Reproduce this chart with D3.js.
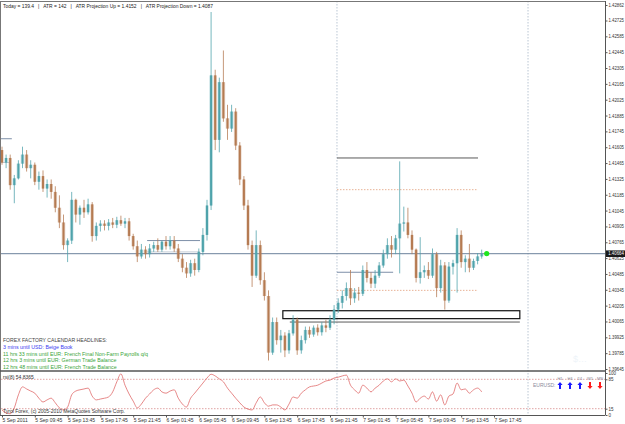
<!DOCTYPE html>
<html><head><meta charset="utf-8">
<script src="https://cdn.jsdelivr.net/npm/d3@7"></script>
<style>body{margin:0;background:#fff}svg{display:block}text{font-family:"Liberation Sans",Arial,sans-serif}</style>
</head><body><svg id="c" width="625" height="424"></svg>
<script>
// ---- DATA ----
// EURUSD 30-min candles: [open, high, low, close]
const candles = [
[1.4158,1.4161,1.4145,1.4147],[1.4147,1.4154,1.4142,1.4151],[1.4151,1.4154,1.4123,1.4127],[1.4127,1.4136,1.4111,1.4133],
[1.4133,1.4149,1.4132,1.4146],[1.4146,1.4161,1.4142,1.4154],[1.4154,1.4158,1.4139,1.4142],[1.4142,1.4149,1.4133,1.4145],
[1.4145,1.4147,1.4127,1.4130],[1.4130,1.4139,1.4123,1.4135],[1.4135,1.4140,1.4121,1.4124],[1.4124,1.4132,1.4116,1.4128],
[1.4128,1.4132,1.4115,1.4121],[1.4121,1.4126,1.4103,1.4107],[1.4107,1.4118,1.4089,1.4094],[1.4094,1.4101,1.4070,1.4074],
[1.4074,1.4080,1.4059,1.4078],[1.4078,1.4121,1.4075,1.4114],[1.4114,1.4115,1.4094,1.4101],[1.4101,1.4109,1.4092,1.4107],
[1.4107,1.4114,1.4098,1.4103],[1.4103,1.4115,1.4101,1.4110],[1.4110,1.4112,1.4077,1.4082],[1.4082,1.4094,1.4078,1.4091],
[1.4091,1.4096,1.4086,1.4093],[1.4093,1.4096,1.4087,1.4091],[1.4091,1.4097,1.4087,1.4094],[1.4094,1.4098,1.4089,1.4092],
[1.4092,1.4099,1.4089,1.4096],[1.4096,1.4100,1.4091,1.4093],[1.4093,1.4098,1.4089,1.4095],[1.4095,1.4098,1.4078,1.4082],
[1.4082,1.4084,1.4070,1.4073],[1.4073,1.4078,1.4059,1.4064],[1.4064,1.4075,1.4062,1.4070],[1.4070,1.4073,1.4062,1.4066],
[1.4066,1.4075,1.4063,1.4071],[1.4071,1.4077,1.4068,1.4074],[1.4074,1.4080,1.4068,1.4070],[1.4070,1.4078,1.4068,1.4077],
[1.4077,1.4082,1.4070,1.4073],[1.4073,1.4082,1.4070,1.4078],[1.4078,1.4082,1.4068,1.4071],[1.4071,1.4075,1.4059,1.4062],
[1.4062,1.4066,1.4050,1.4054],[1.4054,1.4059,1.4045,1.4049],[1.4049,1.4061,1.4046,1.4058],[1.4058,1.4062,1.4047,1.4052],
[1.4052,1.4071,1.4050,1.4068],[1.4068,1.4089,1.4065,1.4083],[1.4083,1.4114,1.4078,1.4109],[1.4109,1.4280,1.4105,1.4224],
[1.4224,1.4229,1.4158,1.4167],[1.4167,1.4222,1.4156,1.4218],[1.4218,1.4246,1.4183,1.4186],[1.4186,1.4198,1.4167,1.4177],
[1.4177,1.4198,1.4174,1.4192],[1.4192,1.4195,1.4158,1.4162],[1.4162,1.4165,1.4127,1.4132],[1.4132,1.4135,1.4105,1.4109],
[1.4109,1.4114,1.4070,1.4074],[1.4074,1.4078,1.4037,1.4047],[1.4047,1.4087,1.4045,1.4074],[1.4074,1.4078,1.4039,1.4043],
[1.4043,1.4050,1.4025,1.4029],[1.4029,1.4034,1.3972,1.3979],[1.3979,1.4010,1.3977,1.4006],[1.4006,1.4010,1.3986,1.3990],
[1.3990,1.3999,1.3979,1.3994],[1.3994,1.3997,1.3975,1.3981],[1.3981,1.3999,1.3978,1.3996],[1.3996,1.4012,1.3994,1.4008],
[1.4008,1.4010,1.3977,1.3981],[1.3981,1.3994,1.3978,1.3990],[1.3990,1.4002,1.3987,1.3999],[1.3999,1.4002,1.3992,1.3995],
[1.3995,1.4003,1.3993,1.4001],[1.4001,1.4004,1.3994,1.3997],[1.3997,1.4006,1.3994,1.4003],[1.4003,1.4008,1.3997,1.4001],
[1.4001,1.4012,1.3999,1.4008],[1.4008,1.4021,1.4004,1.4017],[1.4017,1.4027,1.4014,1.4023],[1.4023,1.4034,1.4018,1.4029],
[1.4029,1.4041,1.4025,1.4036],[1.4036,1.4052,1.4021,1.4027],[1.4027,1.4036,1.4023,1.4032],[1.4032,1.4037,1.4025,1.4031],
[1.4031,1.4056,1.4029,1.4052],[1.4052,1.4059,1.4041,1.4045],[1.4045,1.4050,1.4036,1.4040],[1.4040,1.4052,1.4036,1.4047],
[1.4047,1.4059,1.4045,1.4056],[1.4056,1.4070,1.4054,1.4066],[1.4066,1.4080,1.4062,1.4074],[1.4074,1.4082,1.4063,1.4070],
[1.4070,1.4083,1.4066,1.4080],[1.4080,1.4148,1.4049,1.4093],[1.4093,1.4108,1.4086,1.4094],[1.4094,1.4107,1.4080,1.4083],
[1.4083,1.4087,1.4066,1.4070],[1.4070,1.4071,1.4041,1.4045],[1.4045,1.4081,1.4040,1.4050],[1.4050,1.4056,1.4045,1.4052],
[1.4052,1.4059,1.4044,1.4047],[1.4047,1.4071,1.4045,1.4066],[1.4066,1.4068,1.4028,1.4036],[1.4036,1.4061,1.4032,1.4056],
[1.4056,1.4059,1.4017,1.4025],[1.4025,1.4059,1.4023,1.4055],[1.4055,1.4061,1.4048,1.4058],[1.4058,1.4089,1.4032,1.4083],
[1.4083,1.4087,1.4054,1.4059],[1.4059,1.4065,1.4050,1.4062],[1.4062,1.4075,1.4050,1.4054],[1.4054,1.4062,1.4052,1.4060],
[1.4060,1.4067,1.4057,1.4064],[1.4064,1.4070,1.4062,1.4066]
];
// RSI(8) per candle
const rsiValues = [12,5,3,17,48,67,62,57,52,40,31,36,40,29,17,12,19,48,57,60,62,64,45,36,38,40,43,55,79,98,
71,50,33,17,26,40,50,60,64,55,52,57,60,40,26,19,40,52,64,76,88,97,93,86,79,64,52,40,29,19,
14,12,29,43,29,21,24,24,19,12,26,43,40,52,60,67,69,71,76,81,83,88,90,93,95,71,60,52,71,64,
55,64,71,81,86,79,86,81,83,69,52,31,40,45,38,55,33,48,24,45,50,76,60,62,52,60,64,55];
const rsiLevels = [85, 15];
const rsiScaleLabels = [100, 85, 15, 0];
const priceTicks = [1.42862,1.42725,1.42585,1.42445,1.42305,1.42165,1.42025,1.41885,1.41745,1.41605,1.41465,
  1.41325,1.41185,1.41045,1.40905,1.40765,1.40625,1.40485,1.40345,1.40205,1.40065,1.39925,1.39785,1.39645];
const lastPrice = 1.40664;
const timeLabels = ["5 Sep 2011","5 Sep 09:45","5 Sep 13:45","5 Sep 17:45","5 Sep 21:45","6 Sep 01:45","6 Sep 05:45",
  "6 Sep 09:45","6 Sep 13:45","6 Sep 17:45","6 Sep 21:45","7 Sep 01:45","7 Sep 05:45","7 Sep 09:45","7 Sep 13:45","7 Sep 17:45"];
const barsPerLabel = 8;
// horizontal objects: [price, fromBar, toBar, kind]
const levelLines = [
  [1.4168, -0.5, 2.4, "blue"], [1.4147, -0.5, 2, "pale"],
  [1.4078, 35.4, 48.3, "blue"], [1.4068, 35.4, 48.3, "pale"],
  [1.4151, 81.7, 116.1, "dark"], [1.4123, 81.7, 116.1, "dot"],
  [1.4050, 81.7, 95.4, "blue"], [1.4034, 81.7, 116.1, "dot"],
  [1.4006, 70.2, 126.3, "dark"]
];
const zoneBox = {top: 1.4016, bottom: 1.4009, from: 68.5, to: 126.3};
const separators = [81.7, 128.3];
const headerText = "Today = 139.4   |   ATR = 142   |   ATR Projection Up = 1.4152   |   ATR Projection Down = 1.4087";
const newsTitle = "FOREX FACTORY CALENDAR HEADLINES:";
const newsLines = [
  ["3 mins until USD: Beige Book", "blue"],
  ["11 hrs 33 mins until EUR: French Final Non-Farm Payrolls q/q", "green"],
  ["12 hrs 3 mins until EUR: German Trade Balance", "green"],
  ["12 hrs 48 mins until EUR: French Trade Balance", "green"]
];
const trendFrames = ["H1","H4","D1","W1","MN"];
const trendDirs = ["up","up","up","down","down"];
const rsiTitle = "rsi(8) 54.8365";
const copyright = "Tyrol Forex, (c) 2005-2010 MetaQuotes Software Corp.";

// ---- DRAW ----
const svg = d3.select("#c");
const W = 625, plotR = 605;
const mainTop = 1, mainBot = 371, rsiBot = 415;
const x = d3.scaleLinear().domain([0, candles.length - 1]).range([2, 2 + 4.1 * (candles.length - 1)]);
const y = d3.scaleLinear().domain([1.39645, 1.42862]).range([369, 5]);
const ry = d3.scaleLinear().domain([0, 100]).range([415, 373]);
const UP = "#4fa3ab", DN = "#b57b52";
const FONT = "Liberation Sans, Arial, sans-serif";

svg.append("rect").attr("width", W).attr("height", 424).attr("fill", "#fff");

separators.forEach(s => {
  svg.append("line").attr("x1", x(s)).attr("x2", x(s)).attr("y1", mainTop).attr("y2", rsiBot)
    .attr("stroke", "#a8b8c8").attr("stroke-width", 0.8).attr("stroke-dasharray", "1.5,1.5");
});

const lvlStyle = {
  blue: {c: "#7d8fa8", w: 1, d: null},
  pale: {c: "#c4ccd6", w: 1, d: null},
  dark: {c: "#5a5a5a", w: 1, d: null},
  dot:  {c: "#e2a07c", w: 0.8, d: "1.5,1.5"}
};
levelLines.forEach(l => {
  const s = lvlStyle[l[3]];
  svg.append("line").attr("x1", x(l[1])).attr("x2", x(l[2])).attr("y1", y(l[0])).attr("y2", y(l[0]))
    .attr("stroke", s.c).attr("stroke-width", s.w).attr("stroke-dasharray", s.d);
});
svg.append("rect").attr("x", x(zoneBox.from)).attr("y", y(zoneBox.top))
  .attr("width", x(zoneBox.to) - x(zoneBox.from)).attr("height", y(zoneBox.bottom) - y(zoneBox.top))
  .attr("fill", "none").attr("stroke", "#111").attr("stroke-width", 1.2);

svg.append("line").attr("x1", 0).attr("x2", plotR).attr("y1", y(lastPrice)).attr("y2", y(lastPrice))
  .attr("stroke", "#6c829c").attr("stroke-width", 1);

const bar = svg.append("g").selectAll("g").data(candles).join("g");
bar.append("line")
  .attr("x1", (d, i) => x(i)).attr("x2", (d, i) => x(i))
  .attr("y1", d => y(d[1])).attr("y2", d => y(d[2]))
  .attr("stroke", d => d[3] >= d[0] ? UP : DN).attr("stroke-width", 0.9).attr("opacity", 0.85);
bar.append("rect")
  .attr("x", (d, i) => x(i) - 1.8).attr("width", 3.6)
  .attr("y", d => y(Math.max(d[0], d[3]))).attr("height", d => Math.max(1, Math.abs(y(d[0]) - y(d[3]))))
  .attr("fill", d => d[3] >= d[0] ? UP : DN).attr("opacity", 0.3);
bar.append("rect")
  .attr("x", (d, i) => x(i) - 1).attr("width", 2)
  .attr("y", d => y(Math.max(d[0], d[3]))).attr("height", d => Math.max(1, Math.abs(y(d[0]) - y(d[3]))))
  .attr("fill", d => d[3] >= d[0] ? UP : DN);

svg.append("circle").attr("cx", x(candles.length - 1) + 5).attr("cy", y(lastPrice)).attr("r", 2.6).attr("fill", "#1ee61e");

// frames
svg.append("line").attr("x1", 0.5).attr("x2", 0.5).attr("y1", mainTop).attr("y2", rsiBot).attr("stroke", "#777");
svg.append("line").attr("x1", 0).attr("x2", plotR).attr("y1", mainTop + 0.5).attr("y2", mainTop + 0.5).attr("stroke", "#777");
svg.append("line").attr("x1", plotR + 0.5).attr("x2", plotR + 0.5).attr("y1", mainTop).attr("y2", rsiBot).attr("stroke", "#555");
svg.append("line").attr("x1", 0).attr("x2", plotR).attr("y1", mainBot).attr("y2", mainBot).attr("stroke", "#555").attr("stroke-width", 1.6);
svg.append("line").attr("x1", 0).attr("x2", plotR).attr("y1", rsiBot + 0.5).attr("y2", rsiBot + 0.5).attr("stroke", "#555");

// price axis
const pa = svg.append("g").attr("transform", `translate(${plotR + 0.5},0)`)
  .call(d3.axisRight(y).tickValues(priceTicks).tickSize(2).tickPadding(1).tickFormat(d3.format(".5f")));
pa.select(".domain").remove();
pa.selectAll("line").attr("stroke", "#555");
pa.selectAll("text").attr("font-size", 4.6).attr("fill", "#333").attr("font-family", FONT)
  .attr("textLength", 15.5).attr("lengthAdjust", "spacingAndGlyphs");
const lp = svg.append("g").attr("transform", `translate(${plotR + 1},${y(lastPrice)})`);
lp.append("rect").attr("x", 0).attr("y", -3.3).attr("width", 19.5).attr("height", 6.6).attr("fill", "#1a1a1a");
lp.append("text").attr("x", 2.3).attr("dy", "0.35em").attr("font-size", 4.6).attr("fill", "#fff")
  .attr("textLength", 15.5).attr("lengthAdjust", "spacingAndGlyphs").text(d3.format(".5f")(lastPrice));

// RSI
rsiLevels.forEach(v => {
  svg.append("line").attr("x1", 1).attr("x2", plotR).attr("y1", ry(v)).attr("y2", ry(v))
    .attr("stroke", "#d88a8a").attr("stroke-width", 0.8).attr("stroke-dasharray", "1.5,1.5");
});
svg.append("path").datum(rsiValues)
  .attr("d", d3.line().x((d, i) => x(i)).y(d => ry(d)).curve(d3.curveMonotoneX))
  .attr("fill", "none").attr("stroke", "#e06a6a").attr("stroke-width", 0.8);
const ra = svg.append("g").attr("transform", `translate(${plotR + 0.5},0)`)
  .call(d3.axisRight(ry).tickValues(rsiScaleLabels).tickSize(2).tickPadding(1));
ra.select(".domain").remove();
ra.selectAll("line").attr("stroke", "#555");
ra.selectAll("text").attr("font-size", 4.5).attr("fill", "#333").attr("font-family", FONT);
svg.append("text").attr("x", 3).attr("y", 379).attr("font-size", 5).attr("fill", "#333").text(rsiTitle);
svg.append("text").attr("x", 3).attr("y", 413).attr("font-size", 5).attr("fill", "#333")
  .attr("textLength", 122).attr("lengthAdjust", "spacingAndGlyphs").text(copyright);

// time axis
const tIdx = timeLabels.map((t, i) => i * barsPerLabel);
const ta = svg.append("g").attr("transform", `translate(0,${rsiBot + 0.5})`)
  .call(d3.axisBottom(x).tickValues(tIdx).tickSize(2).tickPadding(1).tickFormat((d, i) => timeLabels[i]));
ta.select(".domain").remove();
ta.selectAll("line").attr("stroke", "#555");
ta.selectAll("text").attr("font-size", 5).attr("fill", "#333").attr("text-anchor", "start").attr("font-family", FONT);

// header
svg.append("text").attr("x", 3).attr("y", 8).attr("font-size", 5.2).attr("fill", "#222")
  .attr("textLength", 210).attr("lengthAdjust", "spacingAndGlyphs")
  .style("white-space", "pre").text(headerText);

// news block
svg.append("text").attr("x", 3).attr("y", 342).attr("font-size", 5.2).attr("fill", "#444")
  .attr("textLength", 104).attr("lengthAdjust", "spacingAndGlyphs").text(newsTitle);
const newsCol = {blue: "#3c3cf0", green: "#3aa53a"};
newsLines.forEach((n, i) => {
  svg.append("text").attr("x", 3).attr("y", 349 + i * 6.6).attr("font-size", 5.3).attr("fill", newsCol[n[1]]).text(n[0]);
});

// faint watermark
svg.append("text").attr("x", 573).attr("y", 362).attr("font-size", 9).attr("fill", "#eef4f9").text("$…");

// trend widget
svg.append("text").attr("x", 533).attr("y", 386.5).attr("font-size", 5).attr("fill", "#8a8a9a").text("EURUSD:");
const tw = d3.scalePoint().domain(trendFrames).range([560, 600]);
trendFrames.forEach((f, i) => {
  const cx = tw(f);
  svg.append("text").attr("x", cx).attr("y", 380).attr("font-size", 4).attr("fill", "#8a8a9a").attr("text-anchor", "middle").text(f);
  const up = trendDirs[i] === "up";
  const col = up ? "#1a1aff" : "#ff1a1a";
  const p = up
    ? `M${cx},382 L${cx + 2.6},385 L${cx + 1},385 L${cx + 1},389 L${cx - 1},389 L${cx - 1},385 L${cx - 2.6},385 Z`
    : `M${cx},389 L${cx + 2.6},386 L${cx + 1},386 L${cx + 1},382 L${cx - 1},382 L${cx - 1},386 L${cx - 2.6},386 Z`;
  svg.append("path").attr("d", p).attr("fill", col);
});
</script></body></html>
